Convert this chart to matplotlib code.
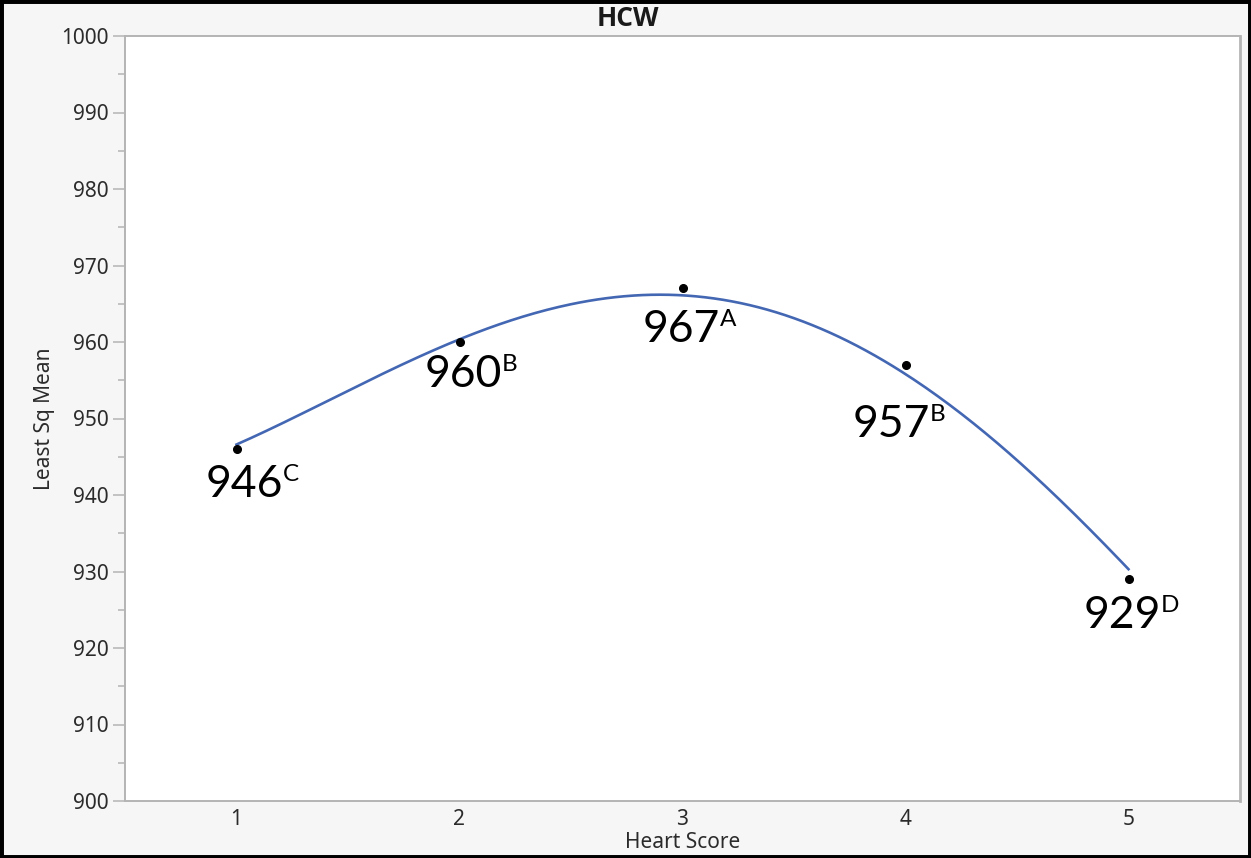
import numpy as np
import matplotlib.pyplot as plt
from matplotlib.patches import Rectangle
from matplotlib.ticker import MultipleLocator

# least squares means of hot carcass weight by heart score
scores = [1, 2, 3, 4, 5]
means = [946, 960, 967, 957, 929]
groups = ["C", "B", "A", "B", "D"]

# fitted line value at each score
fit_at_score = [946.6, 960.35, 966.1, 955.8, 930.3]

# label placement, offset of the number's baseline from its point (pixels)
label_dx = [-31, -35, -40, -53, -45]
label_dy = [-48, -45, -54, -72, -49]

plt.rcParams['font.family'] = ['Noto Sans', 'DejaVu Sans']

fig = plt.figure(figsize=(12.51, 8.58), dpi=100, facecolor="#f6f6f6")
ax = fig.add_axes([125 / 1251, 1 - 801 / 858, 1115 / 1251, 765 / 858])
ax.set_facecolor("white")

# smooth fit line drawn between the first and last score
coef = np.polyfit(scores, fit_at_score, 4)
xs = np.linspace(scores[0], scores[-1], 300)
ax.plot(xs, np.polyval(coef, xs), color="#4467b3", lw=1.9, zorder=2)
ax.plot(scores, means, "o", color="black", ms=5.5, zorder=3)

px = 0.72  # points per pixel at 100 dpi
for x, y, g, dx, dy in zip(scores, means, groups, label_dx, label_dy):
    num = ax.annotate(str(y), xy=(x, y), xytext=(dx * px, dy * px),
                      textcoords="offset points", ha="left", va="baseline",
                      fontsize=32, family="Lato", color="black")
    ax.annotate(g, xy=(1, y), xycoords=(num, "data"),
                xytext=(0, (dy + 16) * px), textcoords="offset points",
                ha="left", va="baseline", fontsize=17.5, family="Lato",
                color="black")

ax.set_xlim(0.5, 5.5)
ax.set_ylim(900, 1000)
ax.set_xticks(scores)
ax.yaxis.set_major_locator(MultipleLocator(10))
ax.yaxis.set_minor_locator(MultipleLocator(5))

for side in ["left", "bottom", "top", "right"]:
    ax.spines[side].set_color("#b4b4b4")
    ax.spines[side].set_linewidth(1.4)
ax.spines["right"].set_linewidth(2.0)

ax.tick_params(axis="y", which="major", length=8.5, width=1.1,
               color="#b4b4b4", labelsize=15, labelcolor="#2b2b2b", pad=3)
ax.tick_params(axis="y", which="minor", length=5, width=1.1, color="#b4b4b4")
ax.tick_params(axis="x", length=0, labelsize=15, labelcolor="#2b2b2b", pad=6)

ax.set_xlabel("Heart Score", fontsize=15, color="#2b2b2b", labelpad=1)
ax.set_ylabel("Least Sq Mean", fontsize=15, color="#2b2b2b", labelpad=5)
fig.text(0.502, 1 - 18 / 858, "HCW", ha="center", va="center",
         fontsize=19, fontweight="bold", family="Open Sans", color="#1a1a1a")

# black frame around the whole figure
fig.patches.append(Rectangle((0, 0), 1, 1, transform=fig.transFigure,
                             fill=False, edgecolor="black", lw=5))

fig.savefig("out.png", dpi=100, facecolor=fig.get_facecolor())
